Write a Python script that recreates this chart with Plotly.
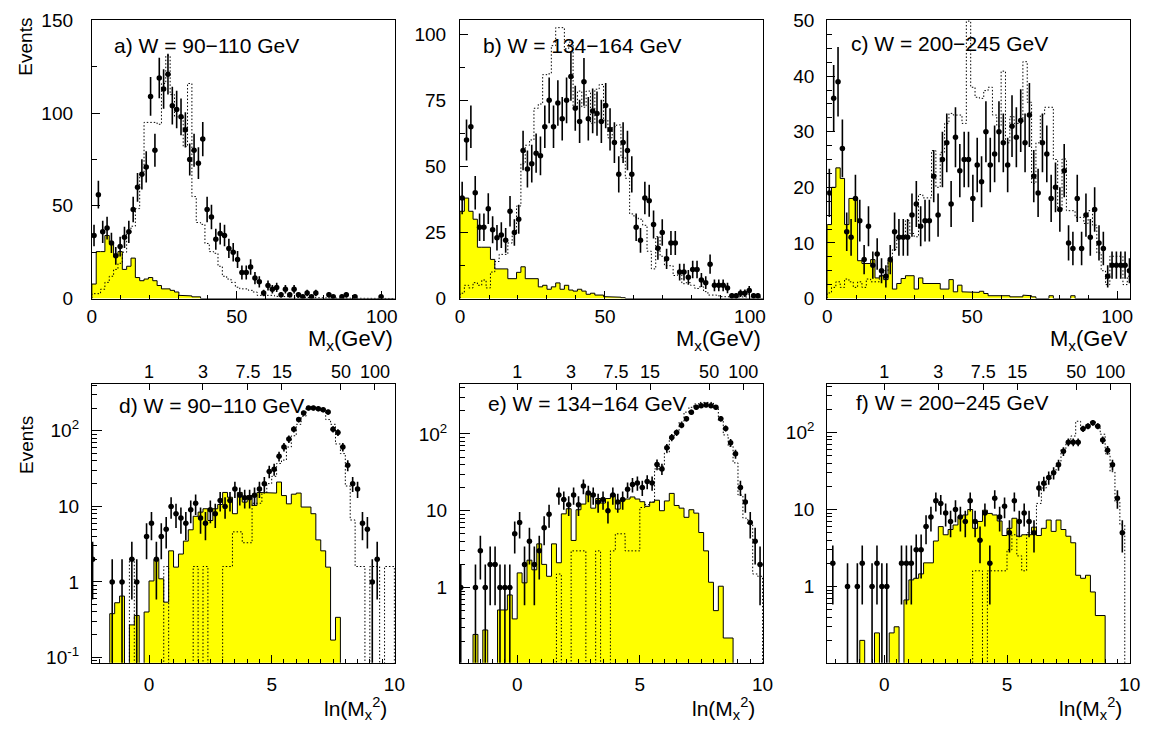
import math
import plotly.graph_objects as go

FIG_W, FIG_H = 1153, 734

# ---------------- binning ----------------
MX_BIN_WIDTH = 1.5      # GeV, M_X spectra (top row)
MX_N_BINS = 70
LN_BIN_WIDTH = 0.2      # ln(M_X^2) spectra (bottom row)
LN_LOW_EDGE = -2.4
LN_N_BINS = 62

# ---------------- M_X spectra: data, non-diffractive background, total MC ----------------
mx_data_a = [34, 56, 36, 38, 30, 23, 28, 33, 36, 48, 60, 67, 71, 109, 80, 119, 113, 121, 104, 102,
             98, 91, 75, 80, 73, 86, 48, 44, 32, 35, 34, 27, 25, 21, 14, 14, 17, 11, 9, 3,
             7, 5, 6, 2, 5, 2, 5, 2, 1, 3, 1, 3, 0, 0, 2, 1, 0, 1, 2, 0,
             1, 0, 0, 0, 0, 0, 1, 0, 0, 0]
mx_bkg_a = [7.8, 25.3, 25.3, 34, 30.5, 22.7, 25.3, 15.7, 17.4, 21.8, 11.3, 9.6, 10.5, 11.3, 9.6,
            7.0, 5.2, 5.2, 4.4, 3.5, 1.7, 1.7, 1.4, 0.9, 0.9]
mx_mc_a = [2.6, 2.6, 5, 8.7, 12, 15.7, 19, 25, 35, 39, 48.5, 67, 95, 95, 95, 94, 116, 131, 110, 98,
           98, 82, 116, 55, 41, 40, 29.7, 25.3, 24.4, 17.4, 12, 10.5, 8.7, 6.1, 5.2, 5.2, 4.4, 3.5, 1.7, 2.0,
           1.7, 1.7, 1.2, 0.9, 0.9, 0.9, 0.7, 0.7, 0.5, 0.5, 0.4, 0.4, 0.3, 0.3, 0.2, 0.2, 0.2, 0.2, 0.2, 0.2]

mx_data_b = [38, 60, 65, 40, 27, 27, 34, 26, 23, 24, 22, 33, 25, 30, 56, 49, 51, 55, 54, 65,
             75, 65, 74, 68, 75, 84, 72, 67, 82, 68, 71, 70, 67, 73, 64, 59, 47, 59, 56, 47,
             27, 22, 38, 37, 28, 19, 25, 15, 21, 21, 10, 10, 8, 11, 11, 7, 6, 13, 5, 5,
             5, 4, 1, 1, 2, 2, 3, 1, 1, 0]
mx_bkg_b = [33, 38, 33, 30, 19.4, 19.4, 19.4, 14.8, 11.2, 11.2, 11.2, 7.5, 7.5, 9.9, 12, 7.5, 7.5, 7.5,
            4.4, 5, 3.5, 4.4, 5.9, 3.5, 5, 3.2, 2.8, 3.5, 2.8, 1.6, 2, 1.3, 1.3, 0.7, 0.6, 0.6, 0.5, 0.3]
mx_mc_b = [2, 5, 4, 6, 5, 7, 4, 10, 14, 16.7, 16.7, 21, 24.6, 35, 51, 58, 60, 72, 73.6, 84.7,
           85, 95.7, 102.5, 102.5, 94.5, 97, 72.4, 78.5, 72.4, 78.5, 66.3, 79.2, 81, 67.5, 60.8, 65, 65.7, 53.4, 45.5, 32,
           30.8, 30, 27.7, 17.9, 11.2, 23.4, 16, 12.4, 12.4, 8.7, 9.3, 5.6, 6, 5, 3.8, 4.4, 2.6, 1.3, 1.3, 1,
           0.7, 0.5, 0.5, 0.5, 0.5, 0.5, 0.5, 0.5, 0.5, 0.5]

mx_data_c = [19, 36, 39, 27, 12, 11, 18, 14, 7, 13, 6, 8, 5, 4, 7, 12, 11, 11, 11, 15,
             17, 13, 14, 14, 22, 15, 25, 28, 17, 29, 23, 25, 25, 18, 24, 21, 30, 24, 26, 30,
             28, 24, 31, 29, 32, 28, 33, 22, 19, 28, 26, 18, 20, 16, 23, 10, 9, 18, 9, 15,
             11, 16, 10, 9, 4, 6, 6, 6, 6, 5]
mx_bkg_c = [13.3, 20, 23.5, 21.6, 13.3, 18, 18, 6.8, 6.3, 6.3, 7, 3.7, 4.1, 3.4, 6.9, 1.7, 2.7, 3.6, 4.1, 4.1,
            1.7, 3.7, 2.7, 2.7, 2.7, 2.7, 1.7, 1.7, 3.4, 1.2, 2.4, 1.2, 1.1, 1.1, 1.1, 1.3, 0.9, 0.5, 0.4, 0.4,
            0.5, 0.5, 0.3, 0.3, 0.3, 0.6, 0.5, 0.3, 0, 0, 0, 0.5, 0, 0, 0, 0, 0.5]
mx_mc_c = [1, 2, 3, 2, 3.5, 3, 2, 3, 2, 3.5, 3, 3, 4, 5, 6.5, 8.8, 11, 11, 14, 11.7,
           11.1, 18.7, 18.1, 18.1, 26.6, 20, 26.3, 31.5, 33.3, 33, 33, 31.5, 49.9, 38, 36.2, 36, 37.4, 38, 33, 31,
           40.9, 28, 32.7, 31.5, 31.5, 42.6, 35.3, 20.7, 28, 33, 34.4, 34.4, 25, 15.8, 25.1, 15.8, 15.8, 14.6, 14.6, 13.5,
           15.8, 13.2, 8.2, 5, 2.5, 7.6, 7.6, 7.6, 2.5, 4]

# ---------------- ln(M_X^2) spectra ----------------
ln_data_d = [2, 0, 0, 0, 1, 0, 1, 0, 2, 1, 0, 4, 6, 2, 4, 5, 10, 8, 7, 6,
             9, 11, 7, 6, 9, 8, 12, 10, 12, 17, 14, 13, 13, 14, 17, 20, 29, 31, 46, 61,
             78, 105, 141, 172, 200, 200, 196, 190, 177, 105, 95, 61, 35, 20, 17, 6, 5, 1, 2, 0,
             0, 0]
ln_bkg_d = [0, 0, 0, 0, 0.38, 0.53, 0.65, 0, 0.27, 0.36, 0, 0.40, 1.03, 1.98, 1.1, 0.54, 2.58, 1.57, 2.34, 3.47,
            4.9, 7.4, 8.4, 9.3, 6.5, 9.3, 10.6, 15.3, 13.2, 8.0, 15.3, 11.4, 13.9, 10.3, 15.3, 15.0, 15.3, 15.0, 21, 13.9,
            10.8, 14.5, 15.0, 9.8, 9.8, 8.0, 3.6, 2.58, 1.57, 0.17, 0.34]
ln_mc_d = [0, 0, 0, 0, 0, 0, 0, 0, 2, 0, 0, 0, 0, 0, 0, 1.6, 0, 0, 0, 0,
           0, 1.6, 0, 1.6, 0, 0, 0, 1.6, 1.6, 4.6, 4.6, 3.3, 3.3, 11, 11, 15, 20, 25, 37, 41,
           61, 86, 122, 156, 200, 210, 200, 181, 141, 122, 67, 50, 18.6, 6.6, 1.6, 1.6, 0, 1.6, 1.6, 0,
           1.6, 1.6]

ln_data_e = [1, 0, 0, 1, 3, 1, 2, 2, 1, 1, 1, 5, 7, 2, 4, 2, 3, 6, 9, 0,
             16, 14, 12, 16, 12, 21, 17, 16, 13, 14, 10, 16, 13, 14, 19, 22, 23, 20, 24, 23,
             40, 35, 66, 90, 104, 130, 158, 192, 222, 233, 238, 233, 222, 158, 118, 77, 55, 20, 13, 7,
             4, 2]
ln_bkg_e = [0, 0, 0, 0.245, 0, 0.28, 0, 0, 0.51, 0.51, 0.8, 0.39, 1.55, 1.15, 2.27, 1.7, 3.7, 2.0, 1.4, 3.7,
            2.1, 9.1, 10.6, 4.1, 10.3, 12.2, 16.8, 10.8, 14.4, 12.6, 14.4, 16.3, 10.5, 13.7, 14.2, 15.1, 14.2, 13.1, 11.4, 12.9,
            13.7, 10, 13.4, 16.8, 11.7, 10.8, 8.2, 10.3, 9.3, 5.2, 3.0, 1.17, 0.5, 1.04, 0.22, 0.22]
ln_mc_e = [0, 0, 0, 0, 0, 0, 0, 0, 0, 0, 0, 0, 0, 0, 0, 0, 0, 0, 0, 0,
           1.5, 0, 0, 3, 3, 3, 0, 0, 3, 0, 0, 3, 5, 5, 3, 3, 3, 11, 12, 13,
           35, 38, 57, 88, 107, 143, 192, 222, 245, 257, 257, 257, 222, 150, 97, 69, 42, 16, 8, 6.6,
           1.5, 1.4]

ln_data_f = [0, 2, 0, 0, 1, 0, 1, 2, 0, 1, 2, 1, 1, 0, 0, 2, 2, 2, 3, 3,
             6, 8, 13, 12, 9, 7, 10, 8, 7, 13, 7, 4, 9, 2, 14, 8, 11, 5, 13, 7,
             9, 7, 5, 19, 22, 26, 30, 38, 57, 75, 75, 75, 112, 121, 134, 121, 80, 59, 38, 14,
             5, 0]
ln_bkg_f = [0, 0, 0, 0, 0, 0, 0, 0.2, 0, 0, 0.25, 0, 0, 0.25, 0.3, 0, 0.67, 1.22, 1.28, 1.46,
            2.03, 2.03, 3.9, 6.0, 4.7, 5.5, 6.3, 8.1, 8.5, 10, 5.7, 7, 9.8, 8.9, 8.5, 7.1, 4.6, 5.7, 7.7, 4.5,
            4.7, 4.7, 5.9, 4.6, 5.7, 7.3, 5.2, 7.3, 5.5, 4.5, 3.7, 1.4, 1.28, 1.4, 0.85, 0.42, 0.42]
ln_mc_f = [0, 0, 0, 0, 0, 0, 0, 0, 0, 0, 0, 0, 0, 0, 0, 0, 0, 0, 0, 0,
           0, 0, 0, 0, 0, 0, 0, 0, 0, 0, 1.6, 1.6, 0, 1.6, 1.6, 1.6, 1.6, 3, 4.7, 2.5,
           1.6, 5, 5, 12, 19, 25, 30, 40, 60, 75, 90, 140, 110, 125, 140, 115, 95, 53, 31, 12.5,
           6.3, 0]

# ---------------- texts ----------------
panel_labels = ["a) W = 90\u2212110 GeV", "b) W = 134\u2212164 GeV", "c) W = 200\u2212245 GeV",
                "d) W = 90\u2212110 GeV", "e) W = 134\u2212164 GeV", "f) W = 200\u2212245 GeV"]
mx_scale_values = [1, 3, 7.5, 15, 50, 100]          # M_X (GeV) marked on the upper scale
mx_scale_labels = ["1", "3", "7.5", "15", "50", "100"]
x_titles_top = ["M<sub>x</sub>(GeV)", "M<sub>x</sub>(GeV)", "M<sub>x</sub>(GeV"]
x_title_bottom = "ln(M<sub>x</sub><sup>2</sup>)"
y_title = "Events"

# ---------------- page geometry (pixels) ----------------
COLS = [(88, 395), (461, 768), (833, 1140)]
ROWS = [(10, 297), (385, 672)]
FONT = "Liberation Sans, Arial, Helvetica, sans-serif"


def xfrac(px):
    return px / FIG_W


def yfrac(py):
    return 1 - py / FIG_H


def bin_edges(first, width, n):
    return [first + width * i for i in range(n + 1)]


def padded(vals, n):
    return list(vals) + [0] * (n - len(vals))


def step_outline(edges, vals, floor):
    xs, ys = [edges[0]], [floor]
    for i, v in enumerate(vals):
        h = v if v > 0 else floor
        xs += [edges[i], edges[i + 1]]
        ys += [h, h]
    xs.append(edges[len(vals)])
    ys.append(floor)
    return xs, ys


mx_edges = bin_edges(0.0, MX_BIN_WIDTH, MX_N_BINS)
ln_edges = bin_edges(LN_LOW_EDGE, LN_BIN_WIDTH, LN_N_BINS)

panels = [
    dict(data=mx_data_a, bkg=mx_bkg_a, mc=mx_mc_a, log=False, yr=[0, 150.4], dt=50, mdt=25, so=14),
    dict(data=mx_data_b, bkg=mx_bkg_b, mc=mx_mc_b, log=False, yr=[0, 105.5], dt=25, mdt=12.5, so=9),
    dict(data=mx_data_c, bkg=mx_bkg_c, mc=mx_mc_c, log=False, yr=[0, 50.15], dt=10, mdt=2.5, so=8),
    dict(data=ln_data_d, bkg=ln_bkg_d, mc=ln_mc_d, log=True, yr=[-1.07, 2.62], so=8),
    dict(data=ln_data_e, bkg=ln_bkg_e, mc=ln_mc_e, log=True, yr=[-0.98, 2.65], so=8),
    dict(data=ln_data_f, bkg=ln_bkg_f, mc=ln_mc_f, log=True, yr=[-0.99, 2.63], so=8),
]

fig = go.Figure()
layout = dict(
    width=FIG_W, height=FIG_H, margin=dict(l=0, r=0, t=0, b=0),
    paper_bgcolor="white", plot_bgcolor="white", showlegend=False,
    font=dict(family=FONT, color="black", size=19),
)

log_minor = [k * 10.0 ** e for e in range(-2, 3) for k in range(2, 10)]

for i, p in enumerate(panels):
    n = i + 1
    xa = "x" if n == 1 else f"x{n}"
    ya = "y" if n == 1 else f"y{n}"
    row, col = divmod(i, 3)
    if p["log"]:
        edges, nb, half = ln_edges, LN_N_BINS, LN_BIN_WIDTH / 2
        floor = 10 ** (p["yr"][0] - 2)
        xr = [-2.33, 10.02]
    else:
        edges, nb, half = mx_edges, MX_N_BINS, MX_BIN_WIDTH / 2
        floor = 0.0
        xr = [0, 104.5]
    data = padded(p["data"], nb)
    bkg = padded(p["bkg"], nb)
    mc = padded(p["mc"], nb)
    centers = [(edges[k] + edges[k + 1]) / 2 for k in range(nb)]

    bx, by = step_outline(edges, bkg, floor)
    fig.add_trace(go.Scatter(x=bx, y=by, mode="lines", fill="toself", fillcolor="#ffff00",
                             line=dict(color="black", width=1), hoverinfo="skip",
                             xaxis=xa, yaxis=ya))
    mx_, my_ = step_outline(edges, mc, floor)
    fig.add_trace(go.Scatter(x=mx_, y=my_, mode="lines",
                             line=dict(color="black", width=1, dash="1.5px,2px"),
                             hoverinfo="skip", xaxis=xa, yaxis=ya))
    ys = [v if v > 0 else None for v in data]
    errs = [math.sqrt(v) if v > 0 else 0 for v in data]
    fig.add_trace(go.Scatter(x=centers, y=ys, mode="markers",
                             marker=dict(color="black", size=5.5),
                             error_y=dict(type="data", array=errs, thickness=1.6, width=0, color="black"),
                             error_x=dict(type="constant", value=half, thickness=1, width=0, color="black"),
                             xaxis=xa, yaxis=ya))

    px0, px1 = COLS[col]
    py0, py1 = ROWS[row]
    xkey = "xaxis" if n == 1 else f"xaxis{n}"
    ykey = "yaxis" if n == 1 else f"yaxis{n}"
    common = dict(showline=True, linecolor="black", linewidth=1, mirror=True,
                  showgrid=False, zeroline=False, ticks="inside", tickcolor="black",
                  tickwidth=1, tickfont=dict(size=19, family=FONT))
    if p["log"]:
        layout[xkey] = dict(domain=[xfrac(px0), xfrac(px1)], anchor=ya, range=xr,
                            tickmode="linear", tick0=0, dtick=5, ticklen=8,
                            minor=dict(ticks="inside", dtick=0.5, ticklen=4, tickcolor="black"),
                            ticklabelstandoff=4, **common)
        tv = [0.1, 1, 10, 100]
        tt = ["10<sup>-1</sup>", "1", "10", "10<sup>2</sup>"]
        layout[ykey] = dict(domain=[yfrac(py1), yfrac(py0)], anchor=xa, type="log", range=p["yr"],
                            tickmode="array", tickvals=tv, ticktext=tt, ticklen=10,
                            minor=dict(ticks="inside", tickmode="array", tickvals=log_minor,
                                       ticklen=5, tickcolor="black"),
                            ticklabelstandoff=p["so"], **common)
    else:
        layout[xkey] = dict(domain=[xfrac(px0), xfrac(px1)], anchor=ya, range=xr,
                            tickmode="linear", tick0=0, dtick=50, ticklen=8,
                            minor=dict(ticks="inside", dtick=10, ticklen=4, tickcolor="black"),
                            ticklabelstandoff=1, **common)
        layout[ykey] = dict(domain=[yfrac(py1), yfrac(py0)], anchor=xa, range=p["yr"],
                            tickmode="linear", tick0=0, dtick=p["dt"], ticklen=8,
                            minor=dict(ticks="inside", dtick=p["mdt"], ticklen=5, tickcolor="black"),
                            ticklabelstandoff=p["so"], **common)

# upper M_X scale on the ln(M_X^2) panels
scale_pos = [2 * math.log(m) for m in mx_scale_values]
for j in range(3):
    base = 4 + j
    n = 7 + j
    fig.add_trace(go.Scatter(x=scale_pos, y=[None] * len(scale_pos), mode="markers",
                             hoverinfo="skip", xaxis=f"x{n}", yaxis=f"y{base}"))
    layout[f"xaxis{n}"] = dict(
        overlaying=f"x{base}", anchor=f"y{base}", side="top", range=[-2.33, 10.02],
        tickmode="array", tickvals=scale_pos, ticktext=mx_scale_labels,
        ticks="inside", ticklen=6, tickcolor="black", showline=False, showgrid=False, zeroline=False,
        tickfont=dict(size=18, family=FONT), ticklabelstandoff=1,
    )

fig.update_layout(**layout)

ann = []
label_pos = [(108, 37), (482, 37), (855, 35), (113, 407), (487, 405), (860, 404)]
for txt, (lx, ly) in zip(panel_labels, label_pos):
    ann.append(dict(text=txt, x=xfrac(lx), y=yfrac(ly), xref="paper", yref="paper",
                    xanchor="left", yanchor="middle", showarrow=False,
                    font=dict(size=21, family=FONT)))
for j, t in enumerate(x_titles_top):
    ann.append(dict(text=t, x=xfrac(COLS[j][1]), y=yfrac(340), xref="paper", yref="paper",
                    xanchor="right", yanchor="middle", showarrow=False,
                    font=dict(size=22, family=FONT)))
    ann.append(dict(text=x_title_bottom, x=xfrac(COLS[j][1] - 6), y=yfrac(719), xref="paper", yref="paper",
                    xanchor="right", yanchor="middle", showarrow=False,
                    font=dict(size=21, family=FONT)))
# y-axis titles, rotated and pushed to the top end of each axis
for ey in (38, 448):
    ann.append(dict(text=y_title, x=xfrac(21), y=yfrac(ey), xref="paper", yref="paper",
                    xanchor="center", yanchor="middle", showarrow=False, textangle=-90,
                    font=dict(size=19, family=FONT)))
fig.update_layout(annotations=ann)

fig.write_html("out.html")
